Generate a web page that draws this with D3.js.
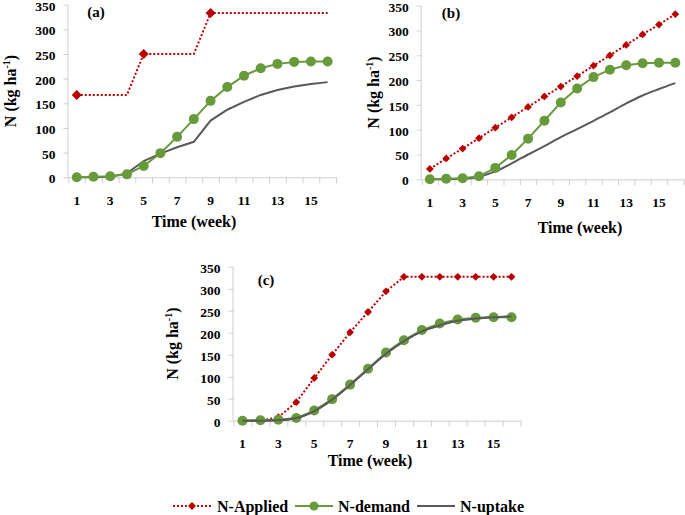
<!DOCTYPE html>
<html><head><meta charset="utf-8">
<script src="https://cdn.jsdelivr.net/npm/d3@7"></script>
<style>
html,body{margin:0;padding:0;background:#fff;}
svg text{font-family:"Liberation Serif","Times New Roman",serif;font-weight:bold;fill:#000;}
</style></head>
<body>
<svg id="chart" width="685" height="515"></svg>
<script>
// ---- data ----
const weeks = [1,2,3,4,5,6,7,8,9,10,11,12,13,14,15,16];
const xTickLabels = [1,3,5,7,9,11,13,15];
const yTickValues = [0,50,100,150,200,250,300,350];
const seriesNames = ["N-Applied","N-demand","N-uptake"];
const panelLabels = ["(a)","(b)","(c)"];

const nDemand   = [0,1,2,6,23,49,82,118,155,183,206,221,230,234,235,235];

const appliedA  = [167,167,167,167,250,250,250,250,333,333,333,333,333,333,333,333];
const appliedAMarkerWeeks = [1,5,9];
const uptakeA   = [0,0,1,8,33,48,61,72,115,137,153,167,177,184,189,193];

const appliedB  = [21,42,62,83,104,125,146,167,187,208,229,250,271,292,312,333];
const uptakeB   = [0,0,1,5,16,32,50,67,85,101,118,135,153,169,182,194];

const appliedC  = [0,0,8,42,97,150,201,247,294,327,327,327,327,327,327,327];
const uptakeC   = [0,0,1,6,22,48,81,117,152,181,203,217,227,232,235,237];

// ---- style / layout ----
const RED = "#b80000", GREEN = "#679a3b", GRAY = "#595959", AXIS = "#cfcfcf";

const panels = [
  {label: panelLabels[0], applied: appliedA, uptake: uptakeA, markerWeeks: appliedAMarkerWeeks,
   left: 68.4, right: 336, y0: 177.3, yTop: 4.7, diamond: 5, curve: d3.curveLinear,
   ylabX: 10, titleX: 194, titleY: 221, labX: 96, labY: 12},
  {label: panelLabels[1], applied: appliedB, uptake: uptakeB, markerWeeks: weeks,
   left: 421.7, right: 683.5, y0: 179.3, yTop: 5.7, diamond: 3.9, curve: d3.curveMonotoneX,
   ylabX: 373, titleX: 580, titleY: 227, labX: 451, labY: 13},
  {label: panelLabels[2], applied: appliedC, uptake: uptakeC, markerWeeks: weeks,
   left: 233.5, right: 520.5, y0: 420.7, yTop: 266.7, diamond: 3.9, curve: d3.curveMonotoneX,
   ylabX: 172, titleX: 370, titleY: 460, labX: 266, labY: 280}
];

const svg = d3.select("#chart");
const diamondPath = s => `M0,${-s}L${s},0L0,${s}L${-s},0Z`;

panels.forEach(p => {
  const x = d3.scaleLinear().domain([0.5, 16.5]).range([p.left, p.right]);
  const y = d3.scaleLinear().domain([0, 350]).range([p.y0, p.yTop]);
  const g = svg.append("g");

  // y axis
  const ya = g.append("g").attr("transform", `translate(${p.left},0)`)
    .call(d3.axisLeft(y).tickValues(yTickValues).tickSize(5).tickPadding(8).tickFormat(d3.format("d")));
  ya.select(".domain").attr("stroke", AXIS).attr("d", `M-0.5,${p.y0}V${p.yTop}`);
  ya.selectAll(".tick line").attr("stroke", AXIS);
  ya.selectAll(".tick text").attr("font-size", 13.5).attr("dy", "0.4em")
    .attr("font-family", "Liberation Serif").attr("font-weight", "bold").attr("fill", "#000");

  // x axis: ticks at category boundaries
  const xa = g.append("g").attr("transform", `translate(0,${p.y0})`)
    .call(d3.axisBottom(x).tickValues(d3.range(0.5, 17, 1)).tickSize(6).tickFormat(""));
  xa.select(".domain").attr("stroke", AXIS).attr("d", `M${p.left},0.5H${p.right}`);
  xa.selectAll(".tick line").attr("stroke", AXIS);
  g.append("g").selectAll("text").data(xTickLabels).join("text")
    .attr("x", d => x(d)).attr("y", p.y0 + 23).attr("dy", "0.35em")
    .attr("text-anchor", "middle").attr("font-size", 13.5).text(d => d);

  // axis titles
  g.append("text").attr("x", p.titleX).attr("y", p.titleY).attr("dy", "0.35em")
    .attr("text-anchor", "middle").attr("font-size", 16).text("Time (week)");
  const yl = g.append("text")
    .attr("transform", `translate(${p.ylabX},${(p.y0 + p.yTop) / 2}) rotate(-90)`)
    .attr("dy", "0.35em").attr("text-anchor", "middle").attr("font-size", 16);
  yl.append("tspan").text("N (kg ha");
  yl.append("tspan").attr("font-size", 10).attr("dy", "-0.6em").text("-1");
  yl.append("tspan").attr("dy", "0.4em").text(")");

  g.append("text").attr("x", p.labX).attr("y", p.labY).attr("dy", "0.35em")
    .attr("text-anchor", "middle").attr("font-size", 15).text(p.label);

  // N-uptake
  g.append("path").datum(weeks)
    .attr("fill", "none").attr("stroke", GRAY).attr("stroke-width", 2)
    .attr("d", d3.line().x(w => x(w)).y((w, i) => y(p.uptake[i])).curve(p.curve));

  // N-applied
  g.append("path").datum(weeks)
    .attr("fill", "none").attr("stroke", RED).attr("stroke-width", 2).attr("stroke-dasharray", "2,2")
    .attr("d", d3.line().x(w => x(w)).y((w, i) => y(p.applied[i])));
  g.append("g").selectAll("path").data(p.markerWeeks).join("path")
    .attr("transform", w => `translate(${x(w)},${y(p.applied[w - 1])})`)
    .attr("d", diamondPath(p.diamond)).attr("fill", RED);

  // N-demand
  g.append("path").datum(weeks)
    .attr("fill", "none").attr("stroke", GREEN).attr("stroke-width", 2)
    .attr("d", d3.line().x(w => x(w)).y((w, i) => y(nDemand[i])));
  g.append("g").selectAll("circle").data(weeks).join("circle")
    .attr("cx", w => x(w)).attr("cy", (w, i) => y(nDemand[i])).attr("r", 5).attr("fill", GREEN);

  // keep N-uptake above in (c) where it overlays markers
  if (p.label === "(c)") {
    g.append("path").datum(weeks)
      .attr("fill", "none").attr("stroke", GRAY).attr("stroke-width", 2)
      .attr("d", d3.line().x(w => x(w)).y((w, i) => y(p.uptake[i])).curve(p.curve));
  }
});

// ---- legend ----
const legY = 506;
const leg = svg.append("g");
const legItems = [
  {name: seriesNames[0], x1: 173, x2: 211, tx: 217},
  {name: seriesNames[1], x1: 295, x2: 333, tx: 338},
  {name: seriesNames[2], x1: 417, x2: 455, tx: 460}
];
legItems.forEach((it, i) => {
  const ln = leg.append("line").attr("x1", it.x1).attr("x2", it.x2).attr("y1", legY).attr("y2", legY)
    .attr("stroke-width", 2);
  if (i === 0) {
    ln.attr("stroke", RED).attr("stroke-dasharray", "2,2");
    leg.append("path").attr("transform", `translate(${(it.x1 + it.x2) / 2},${legY})`)
      .attr("d", diamondPath(4)).attr("fill", RED);
  } else if (i === 1) {
    ln.attr("stroke", GREEN);
    leg.append("circle").attr("cx", (it.x1 + it.x2) / 2).attr("cy", legY).attr("r", 4.5).attr("fill", GREEN);
  } else {
    ln.attr("stroke", GRAY);
  }
  leg.append("text").attr("x", it.tx).attr("y", legY).attr("dy", "0.35em").attr("font-size", 16).text(it.name);
});
</script>
</body></html>
